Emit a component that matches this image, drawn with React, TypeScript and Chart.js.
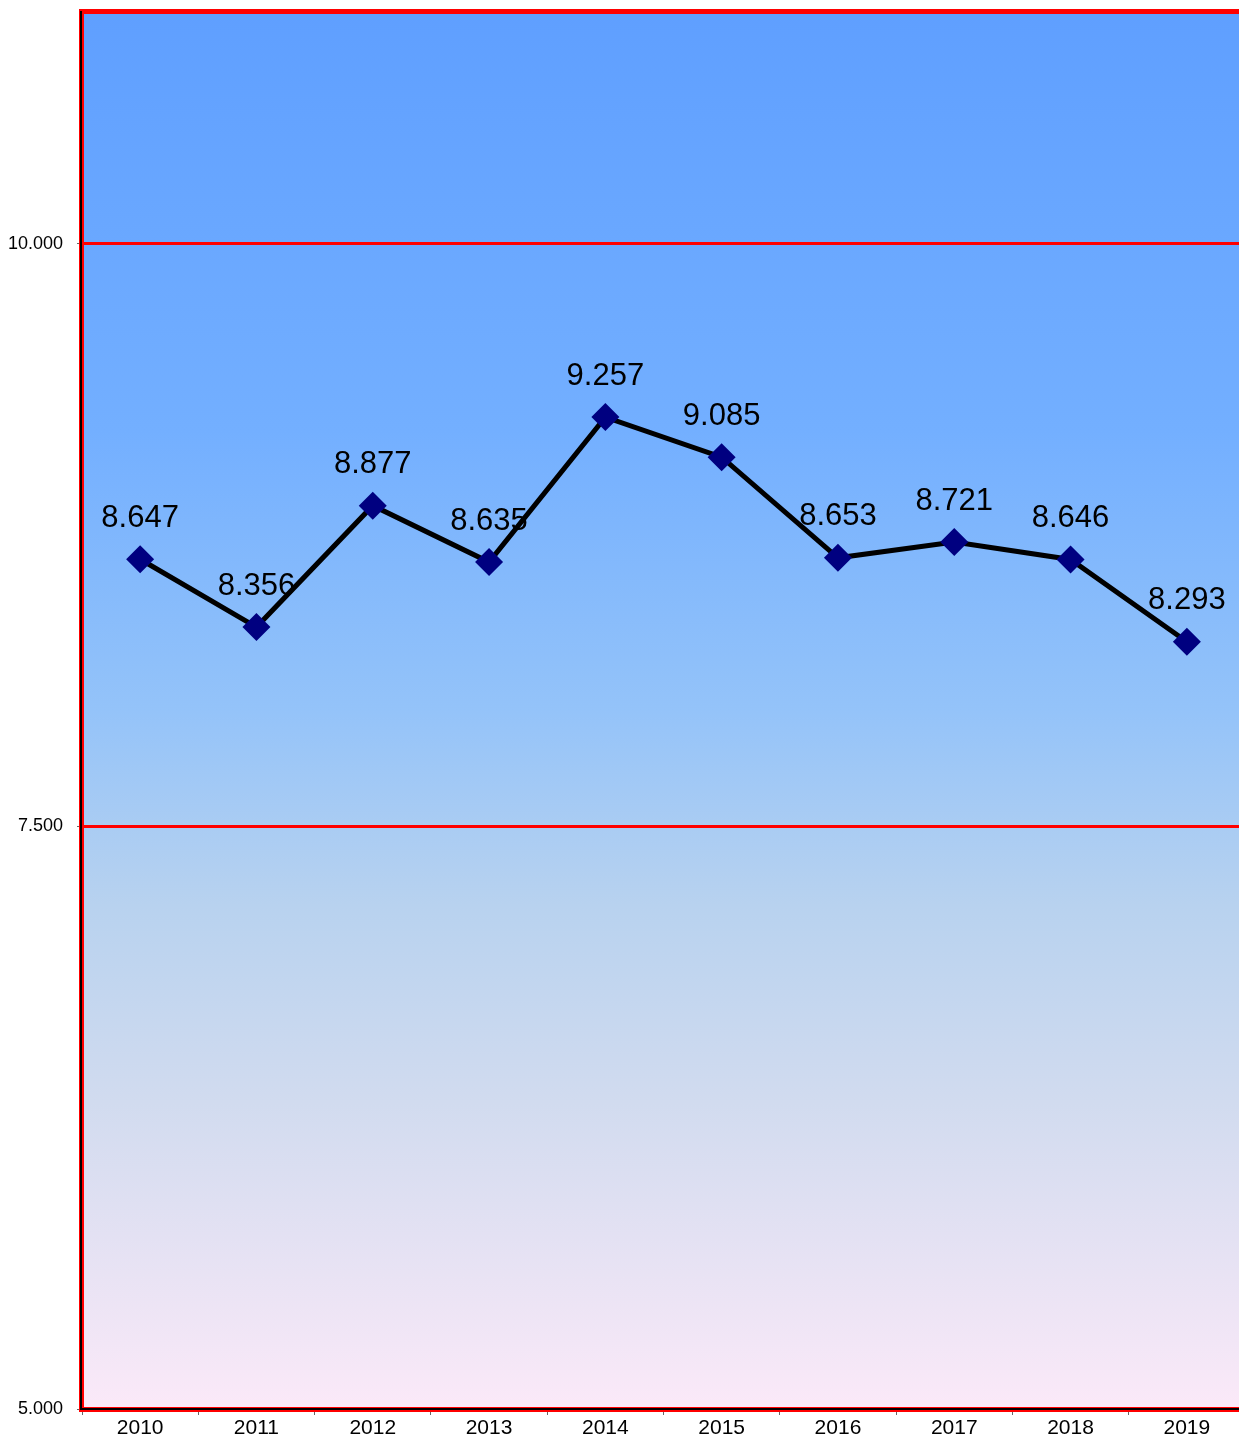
import React, { useEffect, useRef } from "react";
import { Chart, registerables } from "chart.js";

Chart.register(...registerables);

const years = ["2010", "2011", "2012", "2013", "2014", "2015", "2016", "2017", "2018", "2019"];
const values = [8647, 8356, 8877, 8635, 9257, 9085, 8653, 8721, 8646, 8293];
const yTicks = [5000, 7500, 10000];

const fmt = (v: number) => v.toLocaleString("de-DE");

const bgPlugin = {
  id: "bgGradient",
  beforeDraw(chart: any) {
    const { ctx, chartArea } = chart;
    const { left, top, right, bottom } = chartArea;
    const g = ctx.createLinearGradient(0, top, 0, bottom);
    g.addColorStop(0, "#5F9FFF");
    g.addColorStop(0.3, "#73AFFF");
    g.addColorStop(0.5, "#94C3F9");
    g.addColorStop(0.64, "#B8D2EF");
    g.addColorStop(0.78, "#D1DBEF");
    g.addColorStop(1, "#FBE9F8");
    ctx.save();
    ctx.fillStyle = g;
    ctx.fillRect(left, top, right - left, bottom - top);
    ctx.restore();
  },
  afterDraw(chart: any) {
    const { ctx, chartArea } = chart;
    const { left, top, right, bottom } = chartArea;
    ctx.save();
    ctx.strokeStyle = "#FF0000";
    ctx.lineWidth = 5;
    ctx.strokeRect(left - 0.5, top + 0.5, right - left + 10, bottom - top);
    ctx.strokeStyle = "#000000";
    ctx.lineWidth = 2;
    ctx.beginPath();
    ctx.moveTo(left - 1, top);
    ctx.lineTo(left - 1, bottom + 1);
    ctx.moveTo(left - 1, bottom);
    ctx.lineTo(right + 10, bottom);
    ctx.stroke();
    ctx.restore();
  },
};

const labelPlugin = {
  id: "pointLabels",
  afterDatasetsDraw(chart: any) {
    const { ctx } = chart;
    const meta = chart.getDatasetMeta(0);
    ctx.save();
    ctx.font = "31px 'Liberation Sans', Arial, sans-serif";
    ctx.fillStyle = "#000000";
    ctx.textAlign = "center";
    ctx.textBaseline = "middle";
    meta.data.forEach((pt: any, i: number) => {
      ctx.fillText(fmt(values[i]), pt.x, pt.y - 41);
    });
    ctx.restore();
  },
};

export default function App() {
  const ref = useRef<HTMLCanvasElement | null>(null);
  useEffect(() => {
    if (!ref.current) return;
    Chart.defaults.font.family = "'Liberation Sans', Arial, sans-serif";
    const chart = new Chart(ref.current, {
      type: "line",
      data: {
        labels: years,
        datasets: [
          {
            data: values,
            borderColor: "#000000",
            borderWidth: 5,
            pointStyle: "rectRot",
            pointRadius: 14,
            pointHoverRadius: 14,
            pointBackgroundColor: "#000080",
            pointBorderColor: "#000080",
            pointBorderWidth: 0,
            tension: 0,
            fill: false,
          },
        ],
      },
      options: {
        responsive: false,
        animation: false,
        layout: { padding: { top: 8, right: 5, left: 0, bottom: 0 } },
        plugins: { legend: { display: false }, tooltip: { enabled: false } },
        scales: {
          x: {
            type: "category",
            offset: true,
            grid: {
              offset: true,
              drawOnChartArea: false,
              tickLength: 6,
              tickColor: "#666666",
              tickWidth: 1,
            },
            border: { display: false },
            ticks: { color: "#000000", font: { size: 21 }, padding: 1, maxRotation: 0 },
            afterFit(scale: any) {
              scale.height = 28;
              scale.paddingLeft = 0;
              scale.paddingRight = 0;
            },
          },
          y: {
            min: 5000,
            max: 11000,
            afterBuildTicks(scale: any) {
              scale.ticks = yTicks.map((v) => ({ value: v }));
            },
            grid: {
              color: "#FF0000",
              lineWidth: 3,
              tickLength: 5,
              tickColor: "#666666",
              tickWidth: 1,
            },
            border: { display: false },
            ticks: {
              color: "#000000",
              font: { size: 18 },
              padding: 14,
              callback: (v: any) => fmt(Number(v)),
            },
            afterFit(scale: any) {
              scale.width = 82;
              scale.paddingTop = 0;
              scale.paddingBottom = 0;
            },
          },
        },
      },
      plugins: [bgPlugin, labelPlugin],
    });
    return () => chart.destroy();
  }, []);
  return (
    <div style={{ position: "fixed", left: 0, top: -3, width: 1259, height: 1440 }}>
      <canvas ref={ref} width={1259} height={1440} style={{ width: 1259, height: 1440, display: "block" }} />
    </div>
  );
}
